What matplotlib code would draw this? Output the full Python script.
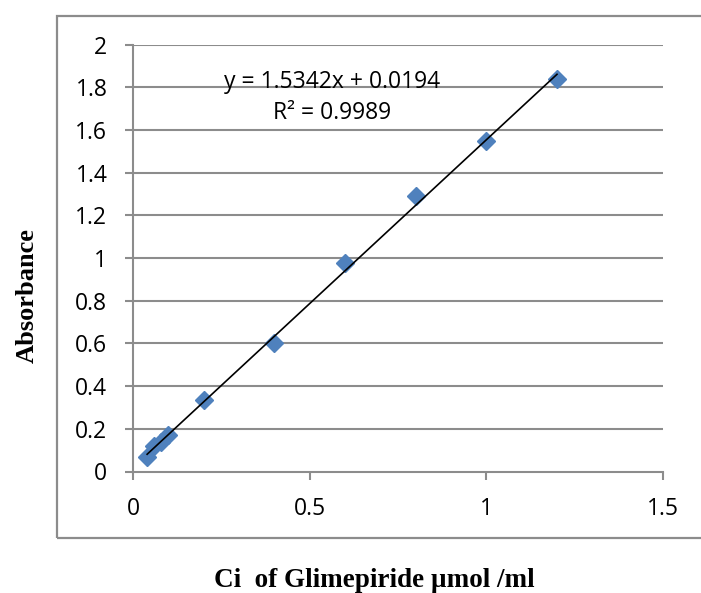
import matplotlib
matplotlib.use("Agg")
import matplotlib.pyplot as plt
from matplotlib.patches import Rectangle
import numpy as np

# Calibration data: concentration vs absorbance
conc = [0.04, 0.06, 0.08, 0.10, 0.20, 0.40, 0.60, 0.80, 1.00, 1.20]
absorb = [0.07, 0.12, 0.14, 0.17, 0.335, 0.60, 0.975, 1.29, 1.55, 1.84]

# Linear trendline coefficients
slope = 1.5342
intercept = 0.0194
r_squared = 0.9989

x_ticks = [0, 0.5, 1, 1.5]
x_tick_labels = ["0", "0.5", "1", "1.5"]
y_ticks = [0, 0.2, 0.4, 0.6, 0.8, 1.0, 1.2, 1.4, 1.6, 1.8, 2.0]
y_tick_labels = ["0", "0.2", "0.4", "0.6", "0.8", "1", "1.2", "1.4", "1.6", "1.8", "2"]

W, H = 701, 593
fig = plt.figure(figsize=(W / 100, H / 100), dpi=100)
fig.patch.set_facecolor("white")

# Chart frame (right side runs past the canvas)
fig.patches.append(Rectangle((57 / W, 1 - 538 / H), 700 / W, (538 - 16) / H,
                             transform=fig.transFigure, fill=False,
                             edgecolor="#8c8c8c", linewidth=1.6, zorder=0))

ax = fig.add_axes([133 / W, 1 - 471.5 / H, (663 - 133) / W, (471.5 - 44.5) / H])
ax.set_xlim(0, 1.5)
ax.set_ylim(0, 2)

grid_col = "#8c8c8c"
for yv in y_ticks[1:]:
    ax.axhline(yv, color=grid_col, linewidth=1.5, zorder=1)

for s in ["top", "right"]:
    ax.spines[s].set_visible(False)
for s in ["left", "bottom"]:
    ax.spines[s].set_color(grid_col)
    ax.spines[s].set_linewidth(1.5)

tick_font = "Open Sans"
tick_size = 16.5
ax.set_xticks(x_ticks)
ax.set_xticklabels(x_tick_labels, fontsize=tick_size, family=tick_font)
ax.set_yticks(y_ticks)
ax.set_yticklabels(y_tick_labels, fontsize=tick_size, family=tick_font)
ax.tick_params(axis="both", color=grid_col, width=1.5, length=6, direction="out",
               pad=12.5)

# Data points
ax.plot(conc, absorb, linestyle="none", marker="D", markersize=9,
        color="#4f81bd", zorder=3, clip_on=False)

# Trendline across the data range
xl = np.array([min(conc), max(conc)])
ax.plot(xl, slope * xl + intercept, color="black", linewidth=1.2, zorder=4)

ax.text(0.5646, 1.796, f"y = {slope}x + {intercept}", fontsize=tick_size,
        family=tick_font, ha="center", va="baseline", zorder=5)
ax.text(0.5646, 1.649, f"R² = {r_squared}", fontsize=tick_size,
        family=tick_font, ha="center", va="baseline", zorder=5)

fig.text(27 / W, 1 - 295.5 / H, "Absorbance", rotation=90, ha="center", va="center",
         fontsize=19, fontweight="bold", family="Liberation Serif")
fig.text(374 / W, 1 - 587 / H, "Ci  of Glimepiride µmol /ml", ha="center",
         va="baseline", fontsize=19.5, fontweight="bold", family="Liberation Serif")

fig.savefig("out.png", dpi=100)
